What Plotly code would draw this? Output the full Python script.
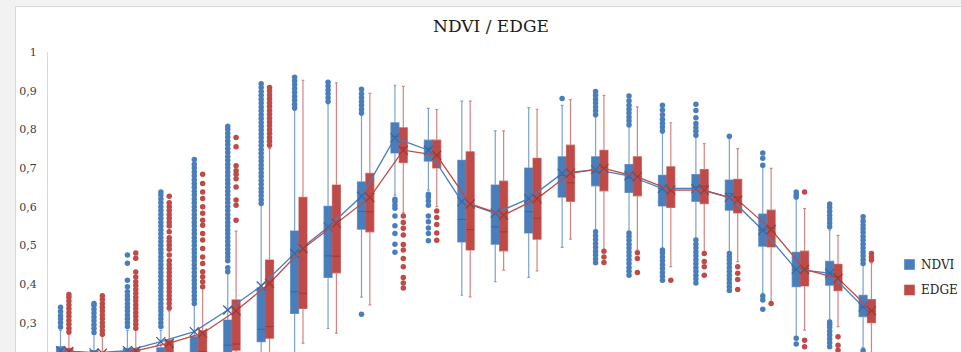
import plotly.graph_objects as go

# ---------------- data ----------------
categories = [str(i) for i in range(1, 26)]

ndvi_lf = [0.15, 0.15, 0.15, 0.15, 0.16, 0.16, 0.17, 0.19, 0.285, 0.366, 0.63, 0.643, 0.371, 0.406, 0.417,
           0.495, 0.539, 0.535, 0.49, 0.515, 0.483, 0.376, 0.264, 0.307, 0.236]
ndvi_q1 = [0.19, 0.185, 0.19, 0.19, 0.20, 0.21, 0.251, 0.324, 0.417, 0.542, 0.739, 0.718, 0.509, 0.503, 0.532,
           0.625, 0.654, 0.637, 0.602, 0.614, 0.591, 0.498, 0.393, 0.397, 0.316]
ndvi_med = [0.21, 0.205, 0.21, 0.21, 0.22, 0.242, 0.283, 0.38, 0.473, 0.588, 0.782, 0.75, 0.567, 0.548, 0.587,
            0.681, 0.69, 0.673, 0.647, 0.651, 0.634, 0.54, 0.438, 0.428, 0.341]
ndvi_q3 = [0.238, 0.228, 0.234, 0.235, 0.264, 0.307, 0.39, 0.537, 0.601, 0.664, 0.817, 0.772, 0.72, 0.656, 0.70,
           0.729, 0.729, 0.709, 0.681, 0.683, 0.669, 0.581, 0.482, 0.459, 0.371]
ndvi_uf = [0.28, 0.27, 0.28, 0.28, 0.345, 0.428, 0.604, 0.849, 0.866, 0.836, 0.914, 0.854, 0.873, 0.796, 0.856,
           0.862, 0.833, 0.806, 0.79, 0.78, 0.776, 0.703, 0.62, 0.54, 0.45]
ndvi_mean = [0.228, 0.222, 0.228, 0.251, 0.277, 0.333, 0.395, 0.479, 0.547, 0.627, 0.778, 0.746, 0.613, 0.583, 0.621,
             0.686, 0.696, 0.68, 0.647, 0.647, 0.624, 0.539, 0.438, 0.428, 0.341]

edge_lf = [0.14, 0.14, 0.14, 0.15, 0.16, 0.17, 0.18, 0.247, 0.273, 0.346, 0.584, 0.60, 0.367, 0.436, 0.434,
           0.516, 0.49, 0.488, 0.445, 0.483, 0.458, 0.354, 0.281, 0.29, 0.21]
edge_q1 = [0.18, 0.18, 0.185, 0.19, 0.20, 0.229, 0.26, 0.337, 0.429, 0.535, 0.714, 0.70, 0.488, 0.486, 0.516,
           0.614, 0.641, 0.628, 0.598, 0.608, 0.584, 0.496, 0.395, 0.383, 0.30]
edge_med = [0.205, 0.20, 0.205, 0.215, 0.225, 0.245, 0.29, 0.376, 0.472, 0.587, 0.753, 0.733, 0.541, 0.535, 0.57,
            0.662, 0.70, 0.677, 0.643, 0.653, 0.625, 0.545, 0.44, 0.419, 0.33]
edge_q3 = [0.234, 0.22, 0.232, 0.255, 0.279, 0.359, 0.462, 0.624, 0.656, 0.686, 0.804, 0.772, 0.742, 0.666, 0.725,
           0.759, 0.746, 0.729, 0.703, 0.696, 0.671, 0.591, 0.485, 0.451, 0.36]
edge_uf = [0.27, 0.265, 0.28, 0.33, 0.39, 0.537, 0.75, 0.927, 0.92, 0.893, 0.911, 0.851, 0.873, 0.796, 0.852,
           0.877, 0.888, 0.858, 0.817, 0.763, 0.75, 0.699, 0.595, 0.526, 0.455]
edge_mean = [0.226, 0.221, 0.227, 0.247, 0.273, 0.331, 0.402, 0.492, 0.557, 0.624, 0.746, 0.733, 0.607, 0.578, 0.621,
             0.687, 0.699, 0.677, 0.643, 0.643, 0.617, 0.541, 0.438, 0.415, 0.331]

ndvi_outliers = [
    [0.289, 0.30, 0.31, 0.318, 0.329, 0.34],
    [0.275, 0.285, 0.295, 0.305, 0.315, 0.325, 0.335, 0.345, 0.35],
    [0.29, 0.30, 0.31, 0.32, 0.33, 0.34, 0.35, 0.36, 0.37, 0.38, 0.393, 0.41, 0.454, 0.475],
    [0.29, 0.30, 0.31, 0.32, 0.33, 0.34, 0.35, 0.36, 0.37, 0.38, 0.39, 0.40, 0.41, 0.42, 0.43, 0.44, 0.45, 0.46,
     0.47, 0.48, 0.49, 0.50, 0.51, 0.52, 0.53, 0.54, 0.55, 0.56, 0.57, 0.58, 0.59, 0.60, 0.61, 0.62, 0.63, 0.638],
    [0.35, 0.36, 0.37, 0.38, 0.39, 0.40, 0.41, 0.42, 0.43, 0.44, 0.45, 0.46, 0.47, 0.48, 0.49, 0.50, 0.51, 0.52,
     0.53, 0.54, 0.55, 0.56, 0.57, 0.58, 0.59, 0.60, 0.61, 0.62, 0.63, 0.64, 0.65, 0.66, 0.67, 0.68, 0.69, 0.70,
     0.71, 0.722],
    [0.432, 0.442, 0.46, 0.47, 0.48, 0.49, 0.50, 0.51, 0.52, 0.53, 0.54, 0.55, 0.56, 0.57, 0.58, 0.59, 0.60, 0.61,
     0.62, 0.63, 0.64, 0.65, 0.66, 0.67, 0.68, 0.69, 0.70, 0.71, 0.72, 0.73, 0.74, 0.75, 0.76, 0.77, 0.78, 0.79,
     0.80, 0.808],
    [0.608, 0.618, 0.628, 0.638, 0.648, 0.658, 0.668, 0.678, 0.688, 0.698, 0.708, 0.718, 0.728, 0.738, 0.748,
     0.758, 0.768, 0.778, 0.788, 0.798, 0.808, 0.818, 0.828, 0.838, 0.848, 0.858, 0.868, 0.878, 0.888, 0.898,
     0.908, 0.918],
    [0.855, 0.865, 0.875, 0.885, 0.895, 0.905, 0.915, 0.925, 0.935],
    [0.872, 0.882, 0.892, 0.902, 0.912, 0.922],
    [0.842, 0.852, 0.862, 0.872, 0.882, 0.892, 0.904, 0.322],
    [0.619, 0.613, 0.604, 0.596, 0.576, 0.551, 0.531, 0.503, 0.482],
    [0.632, 0.625, 0.615, 0.604, 0.576, 0.561, 0.545, 0.531, 0.512],
    [],
    [],
    [],
    [0.88],
    [0.838, 0.848, 0.858, 0.868, 0.878, 0.888, 0.898,
     0.455, 0.465, 0.475, 0.485, 0.495, 0.505, 0.515, 0.525, 0.535],
    [0.812, 0.822, 0.832, 0.842, 0.852, 0.862, 0.874, 0.886,
     0.423, 0.433, 0.443, 0.453, 0.463, 0.473, 0.483, 0.493, 0.503, 0.513, 0.523, 0.532],
    [0.796, 0.806, 0.816, 0.826, 0.838, 0.85, 0.862,
     0.41, 0.42, 0.43, 0.44, 0.45, 0.46, 0.47, 0.48, 0.488],
    [0.865, 0.849, 0.83, 0.815, 0.805, 0.795, 0.785,
     0.403, 0.413, 0.423, 0.433, 0.443, 0.453, 0.463, 0.473, 0.483, 0.493, 0.503, 0.514],
    [0.782,
     0.383, 0.393, 0.403, 0.413, 0.423, 0.433, 0.443, 0.453, 0.463, 0.471, 0.479],
    [0.739, 0.725, 0.707, 0.369, 0.359, 0.335],
    [0.638, 0.63, 0.625, 0.26, 0.245],
    [0.548, 0.558, 0.568, 0.578, 0.588, 0.598, 0.607,
     0.238, 0.248, 0.258, 0.268, 0.278, 0.288, 0.296, 0.302],
    [0.453, 0.463, 0.473, 0.483, 0.493, 0.503, 0.513, 0.523, 0.533, 0.543, 0.553, 0.563, 0.574, 0.228],
]

edge_outliers = [
    [0.276, 0.286, 0.296, 0.306, 0.316, 0.326, 0.336, 0.346, 0.356, 0.366, 0.373],
    [0.27, 0.28, 0.29, 0.30, 0.31, 0.32, 0.33, 0.34, 0.35, 0.36, 0.37],
    [0.286, 0.296, 0.306, 0.316, 0.326, 0.336, 0.346, 0.356, 0.366, 0.376, 0.386, 0.396, 0.406, 0.418,
     0.431, 0.467, 0.48],
    [0.338, 0.35, 0.36, 0.37, 0.38, 0.39, 0.40, 0.41, 0.42, 0.43, 0.44, 0.45, 0.46, 0.475, 0.49, 0.50, 0.51,
     0.52, 0.535, 0.55, 0.56, 0.57, 0.58, 0.59, 0.60, 0.61, 0.627],
    [0.393, 0.406, 0.419, 0.432, 0.453, 0.47, 0.492, 0.514, 0.531, 0.552, 0.565, 0.583, 0.60, 0.621, 0.638,
     0.66, 0.684],
    [0.565, 0.604, 0.617, 0.651, 0.672, 0.684, 0.693, 0.706, 0.755, 0.779],
    [0.759, 0.769, 0.779, 0.789, 0.799, 0.809, 0.819, 0.829, 0.839, 0.849, 0.859, 0.869, 0.879, 0.889, 0.899,
     0.908],
    [],
    [],
    [],
    [0.576, 0.559, 0.544, 0.527, 0.502, 0.488, 0.466, 0.445, 0.417, 0.403, 0.39],
    [0.589, 0.572, 0.554, 0.532, 0.513],
    [],
    [],
    [],
    [],
    [0.485, 0.47, 0.456],
    [0.481, 0.466, 0.43],
    [0.41],
    [0.479, 0.458, 0.445, 0.423],
    [0.445, 0.428, 0.412, 0.386],
    [0.35],
    [0.638, 0.255, 0.238],
    [0.264, 0.242, 0.229],
    [0.462, 0.47, 0.479],
]

series_names = ["NDVI", "EDGE"]
y_ticks = [0.3, 0.4, 0.5, 0.6, 0.7, 0.8, 0.9, 1.0]

# ---------------- styling ----------------
BLUE = "#4a7ebb"
RED = "#be4b48"
BLUE_LINE = "rgba(74,126,187,0.72)"
RED_LINE = "rgba(190,75,72,0.68)"
BLUE_DARK = "#3a679f"
RED_DARK = "#9e3936"
FONT = "DejaVu Serif"

BOX_W = 0.24
OFFSET = 0.125

fig = go.Figure()

series = [
    ("NDVI", -OFFSET, BLUE, BLUE_LINE, BLUE_DARK,
     ndvi_lf, ndvi_q1, ndvi_med, ndvi_q3, ndvi_uf, ndvi_mean, ndvi_outliers),
    ("EDGE", OFFSET, RED, RED_LINE, RED_DARK,
     edge_lf, edge_q1, edge_med, edge_q3, edge_uf, edge_mean, edge_outliers),
]

for name, off, col, lcol, dcol, lf, q1, med, q3, uf, mean, outl in series:
    xs = [i + off for i in range(len(categories))]
    fig.add_trace(go.Box(
        name=name, x=xs, q1=q1, median=med, q3=q3, lowerfence=lf, upperfence=uf,
        width=BOX_W, fillcolor=col, line=dict(color=lcol, width=1.2),
        whiskerwidth=0.35, boxpoints=False, showlegend=False, hoverinfo="skip",
    ))
    # median lines
    mx, my = [], []
    for x, m in zip(xs, med):
        mx += [x - BOX_W / 2, x + BOX_W / 2, None]
        my += [m, m, None]
    fig.add_trace(go.Scatter(x=mx, y=my, mode="lines", line=dict(color=dcol, width=1),
                             showlegend=False, hoverinfo="skip"))
    # outliers
    ox, oy = [], []
    for x, vals in zip(xs, outl):
        for v in vals:
            ox.append(x)
            oy.append(v)
    fig.add_trace(go.Scatter(x=ox, y=oy, mode="markers",
                             marker=dict(color=col, size=5.5, line=dict(width=0)),
                             showlegend=False, hoverinfo="skip"))

for name, off, col, lcol, dcol, lf, q1, med, q3, uf, mean, outl in series:
    xs = [i + off for i in range(len(categories))]
    fig.add_trace(go.Scatter(
        x=xs, y=mean, mode="lines+markers",
        line=dict(color=col, width=1.3),
        marker=dict(symbol="x-thin", size=9, line=dict(color=dcol, width=1.2)),
        showlegend=False, hoverinfo="skip",
    ))

# plot area geometry
W, H = 961, 352
ML, MR, MT, MB = 48, 77, 52, 0
PW, PH = W - ML - MR, H - MT - MB


def px_x(p):
    return (p - ML) / PW


def px_y(p):
    return (H - MB - p) / PH


shapes = [
    dict(type="rect", xref="paper", yref="paper", layer="below",
         x0=px_x(15.5), x1=px_x(965), y0=px_y(356), y1=px_y(6.5),
         fillcolor="white", line=dict(color="#d9d9d9", width=1)),
]
annotations = []
for k, (name, col) in enumerate(zip(series_names, [BLUE, RED])):
    cy = 264.5 + 25.5 * k
    shapes.append(dict(type="rect", xref="paper", yref="paper",
                       x0=px_x(904), x1=px_x(915), y0=px_y(cy + 5.5), y1=px_y(cy - 5.5),
                       fillcolor=col, line=dict(color="rgba(255,255,255,0.4)", width=1)))
    annotations.append(dict(text=name, xref="paper", yref="paper", x=px_x(918.5), y=px_y(cy),
                            xanchor="left", yanchor="middle", showarrow=False,
                            font=dict(family=FONT, size=12, color="#262626")))

fig.update_layout(
    width=W, height=H,
    margin=dict(l=ML, r=MR, t=MT, b=MB, pad=0),
    paper_bgcolor="#f1f2f1",
    plot_bgcolor="white",
    separators=", ",
    boxmode="overlay",
    showlegend=False,
    title=dict(text="NDVI / EDGE", x=491 / W, xref="container", xanchor="center",
               y=1 - 26 / H, yref="container", yanchor="middle",
               font=dict(family=FONT, size=17, color="#1a1a1a")),
    xaxis=dict(range=[-0.5, len(categories) - 0.5], visible=False, showgrid=False, zeroline=False),
    yaxis=dict(range=[0.2243, 1.0], tickvals=y_ticks, showgrid=False, zeroline=False,
               showline=True, linecolor="#d9d9d9", linewidth=1, ticks="",
               ticklabelstandoff=8, tickfont=dict(family=FONT, size=11, color="#404040")),
    shapes=shapes,
    annotations=annotations,
)

fig.write_html("out.html")
